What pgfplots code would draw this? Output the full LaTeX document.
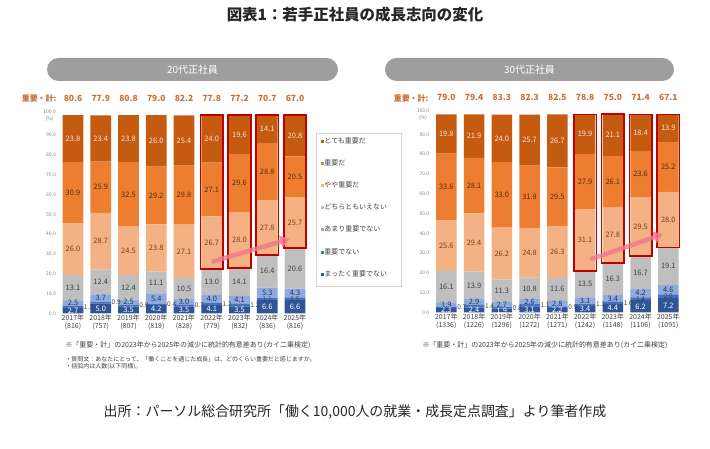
\documentclass[border=0pt]{standalone}
\usepackage{pgfplots}
\pgfplotsset{compat=1.18}
\usepackage{pgfplotstable}
\usepackage{fontspec}
\setmainfont{Noto Sans CJK JP}
\usetikzlibrary{arrows.meta}

\definecolor{cA}{HTML}{2F5597}
\definecolor{cB}{HTML}{4472C4}
\definecolor{cC}{HTML}{8FAADC}
\definecolor{cD}{HTML}{BFBFBF}
\definecolor{cE}{HTML}{F4B183}
\definecolor{cF}{HTML}{ED7D31}
\definecolor{cG}{HTML}{C55A11}
\definecolor{tA}{HTML}{FFFFFF}
\definecolor{tB}{HTML}{404040}
\definecolor{tC}{HTML}{1F3864}
\definecolor{tD}{HTML}{404040}
\definecolor{tE}{HTML}{843C0C}
\definecolor{tF}{HTML}{5A2A08}
\definecolor{tG}{HTML}{FBE5D6}
\definecolor{boxred}{HTML}{C00000}
\definecolor{sumcol}{HTML}{C5703A}
\definecolor{bannergray}{HTML}{9E9E9E}
\definecolor{arrowpink}{HTML}{F0788C}
\definecolor{txt}{HTML}{404040}

\newcommand\fs[1]{\fontsize{#1}{#1}\selectfont}

% a=まったく重要でない b=重要でない c=あまり重要でない d=どちらともいえない e=やや重要だ f=重要だ g=とても重要だ s=重要・計
\pgfplotstableread{
x a b c d e f g s
0 2.7 1.1 2.5 13.1 26.0 30.9 23.8 80.6
1 5.0 0.9 3.7 12.4 28.7 25.9 23.4 77.9
2 3.5 0.9 2.5 12.4 24.5 32.5 23.8 80.8
3 4.2 0.4 5.4 11.1 23.8 29.2 26.0 79.0
4 3.5 0.7 3.0 10.5 27.1 29.8 25.4 82.2
5 4.1 1.2 4.0 13.0 26.7 27.1 24.0 77.8
6 3.5 1.2 4.1 14.1 28.0 29.6 19.6 77.2
7 6.6 1.1 5.3 16.4 27.8 28.8 14.1 70.7
8 6.6 1.5 4.3 20.6 25.7 20.5 20.8 67.0
}\twenty

\pgfplotstableread{
x a b c d e f g s
0 2.3 0.7 1.9 16.1 25.6 33.6 19.8 79.0
1 2.4 1.4 2.9 13.9 29.4 28.1 21.9 79.4
2 1.9 0.8 2.7 11.3 26.2 33.0 24.0 83.3
3 3.1 1.1 2.6 10.8 24.8 31.8 25.7 82.3
4 2.2 0.9 2.8 11.6 26.3 29.5 26.7 82.5
5 3.4 1.1 3.1 13.5 31.1 27.9 19.9 78.8
6 4.4 1.0 3.4 16.3 27.8 26.1 21.1 75.0
7 6.2 1.4 4.2 16.7 29.5 23.6 18.4 71.4
8 7.2 2.0 4.6 19.1 28.0 25.2 13.9 67.1
}\thirty

\pgfplotstableread{
x low imp
5 22.3 77.8
6 22.9 77.2
7 29.4 70.7
8 33.0 67.0
}\twentybox

\pgfplotstableread{
x low imp
5 21.1 78.8
6 25.1 75.0
7 28.5 71.4
8 32.9 67.1
}\thirtybox

\pgfplotsset{
  base/.style={scale only axis, width=249.75bp, height=198bp,
    xmin=-0.5, xmax=8.5, ymin=0, ymax=100, clip=false,
    axis line style={draw=none}, tick style={draw=none}},
  overlayax/.style={base, xtick=\empty, ytick=\empty},
  chart/.style={base, ybar stacked, bar width=20.6bp,
    ytick={0,10,...,100},
    yticklabels={0.0,10.0,20.0,30.0,40.0,50.0,60.0,70.0,80.0,90.0,{\shortstack{100.0\\(\%)}}},
    yticklabel style={font=\fs{5}, text=gray, inner sep=0pt, xshift=-3bp},
    xtick={0,...,8},
    xticklabel style={align=center, font=\fontsize{7}{8}\selectfont, text=txt, inner sep=1bp},
    point meta=explicit symbolic,
    nodes near coords,
    every node near coord/.append style={font=\fs{7.5}, anchor=center, inner sep=0pt},
    legend image code/.code={\fill[##1,draw=none] (0bp,-1.5bp) rectangle (3bp,1.5bp);},
  },
  seg/.style n args={3}{fill=#2, draw=none,
    every node near coord/.append style={text=#3}},
  bseg/.style={visualization depends on={\thisrow{x}\as\xx},
    every node near coord/.append style={font=\fs{6.5}},
    every node near coord/.append code={%
      \ifdim\xx pt>6.5pt \pgfkeysalso{anchor=center}%
      \else\pgfkeysalso{anchor=west, xshift=10.8bp}\fi}},
}

\begin{document}
\begin{tikzpicture}
\begin{scope}[x=1bp,y=1bp]
\useasboundingbox (0,0) rectangle (710,449);
\node[font=\bfseries\fs{15.5}, text=black!85] at (355,434) {図表1：若手正社員の成長志向の変化};
\fill[bannergray, rounded corners=11.5bp] (47,368) rectangle (338,391);
\node[white, font=\fs{10}] at (192.5,379.5) {20代正社員};
\fill[bannergray, rounded corners=11.5bp] (385,368) rectangle (674,391);
\node[white, font=\fs{10}] at (529.5,379.5) {30代正社員};
\draw[gray!35, line width=0.6bp] (316,163) rectangle (401,316);
\node[anchor=east, text=sumcol, font=\bfseries\fs{8}] at (60,351) {重要・計:};
\node[anchor=east, text=sumcol, font=\bfseries\fs{8}] at (432,351) {重要・計:};
\node[anchor=west, font=\fs{7}, text=txt] at (62,104) {※「重要・計」の2023年から2025年の減少に統計的有意差あり(カイ二乗検定)};
\node[anchor=west, font=\fs{7}, text=txt] at (419,104) {※「重要・計」の2023年から2025年の減少に統計的有意差あり(カイ二乗検定)};
\node[anchor=west, font=\fs{6}, text=txt] at (62,90) {・質問文：あなたにとって、「働くことを通じた成長」は、どのくらい重要だと感じますか。};
\node[anchor=west, font=\fs{6}, text=txt] at (62,82) {・括弧内は人数(以下同様)。};
\node[font=\fs{14}, text=black!85] at (355,37) {出所：パーソル総合研究所「働く10,000人の就業・成長定点調査」より筆者作成};
\end{scope}

% ---------- 20s ----------
\begin{axis}[chart, at={(59.1bp,135.7bp)}, anchor=south west,
  xticklabels={{2017年\\(816)},{2018年\\(757)},{2019年\\(807)},{2020年\\(819)},{2021年\\(828)},{2022年\\(779)},{2023年\\(832)},{2024年\\(836)},{2025年\\(816)}},
  legend style={at={(axis description cs:1.0486,0.888)}, anchor=north west, draw=none, fill=none,
    inner sep=0pt, outer sep=0pt, row sep=15bp, font=\fs{7},
    nodes={inner sep=0.5bp, text height=5.2bp, text depth=1bp, text=txt}},
  legend cell align=left, reverse legend]
\addplot[seg={a}{cA}{tA}] table[x=x,y=a,meta=a]{\twenty};
\addplot[seg={b}{cB}{tB}, bseg] table[x=x,y=b,meta=b]{\twenty};
\addplot[seg={c}{cC}{tC}] table[x=x,y=c,meta=c]{\twenty};
\addplot[seg={d}{cD}{tD}] table[x=x,y=d,meta=d]{\twenty};
\addplot[seg={e}{cE}{tE}] table[x=x,y=e,meta=e]{\twenty};
\addplot[seg={f}{cF}{tF}] table[x=x,y=f,meta=f]{\twenty};
\addplot[seg={g}{cG}{tG}] table[x=x,y=g,meta=g]{\twenty};
\legend{まったく重要でない,重要でない,あまり重要でない,どちらともいえない,やや重要だ,重要だ,とても重要だ}
\end{axis}
\begin{axis}[overlayax, at={(59.1bp,135.7bp)}, anchor=south west, ybar stacked, bar width=22.5bp]
\addplot[draw=none, fill=none] table[x=x,y=low]{\twentybox};
\addplot[draw=boxred, line width=1.6bp, fill=none] table[x=x,y=imp]{\twentybox};
\end{axis}
\begin{axis}[overlayax, at={(59.1bp,135.7bp)}, anchor=south west]
\addplot[draw=none, mark=none, nodes near coords, point meta=explicit symbolic,
  nodes near coords style={font=\bfseries\fs{8.5}, text=sumcol, anchor=center}]
  table[x=x, y expr=108.7, meta=s]{\twenty};
\addplot[arrowpink, opacity=0.8, line width=4.5bp, -{Triangle[length=9bp,width=12bp]}]
  coordinates {(5,26) (7.8,37.5)};
\end{axis}

% ---------- 30s ----------
\begin{axis}[chart, at={(432.45bp,136.5bp)}, anchor=south west,
  xticklabels={{2017年\\(1336)},{2018年\\(1226)},{2019年\\(1296)},{2020年\\(1272)},{2021年\\(1271)},{2022年\\(1242)},{2023年\\(1148)},{2024年\\(1106)},{2025年\\(1091)}}]
\addplot[seg={a}{cA}{tA}] table[x=x,y=a,meta=a]{\thirty};
\addplot[seg={b}{cB}{tB}, bseg] table[x=x,y=b,meta=b]{\thirty};
\addplot[seg={c}{cC}{tC}] table[x=x,y=c,meta=c]{\thirty};
\addplot[seg={d}{cD}{tD}] table[x=x,y=d,meta=d]{\thirty};
\addplot[seg={e}{cE}{tE}] table[x=x,y=e,meta=e]{\thirty};
\addplot[seg={f}{cF}{tF}] table[x=x,y=f,meta=f]{\thirty};
\addplot[seg={g}{cG}{tG}] table[x=x,y=g,meta=g]{\thirty};
\end{axis}
\begin{axis}[overlayax, at={(432.45bp,136.5bp)}, anchor=south west, ybar stacked, bar width=22.5bp]
\addplot[draw=none, fill=none] table[x=x,y=low]{\thirtybox};
\addplot[draw=boxred, line width=1.6bp, fill=none] table[x=x,y=imp]{\thirtybox};
\end{axis}
\begin{axis}[overlayax, at={(432.45bp,136.5bp)}, anchor=south west]
\addplot[draw=none, mark=none, nodes near coords, point meta=explicit symbolic,
  nodes near coords style={font=\bfseries\fs{8.5}, text=sumcol, anchor=center}]
  table[x=x, y expr=108.7, meta=s]{\thirty};
\addplot[arrowpink, opacity=0.8, line width=4.5bp, -{Triangle[length=9bp,width=12bp]}]
  coordinates {(5.2,26.9) (7.8,39.5)};
\end{axis}
\end{tikzpicture}
\end{document}
